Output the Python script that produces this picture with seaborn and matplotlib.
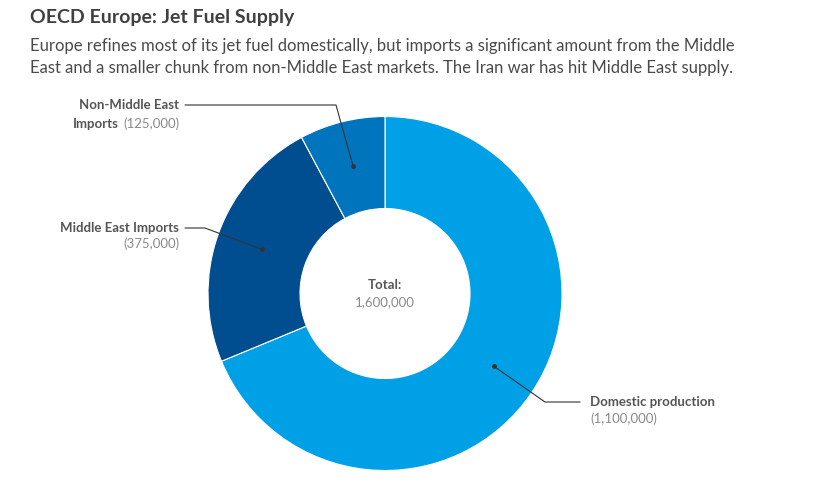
import numpy as np
import matplotlib
matplotlib.use("Agg")
import matplotlib.pyplot as plt
import seaborn as sns

# data
categories = ["Domestic production", "Middle East Imports", "Non-Middle East Imports"]
values = [1100000, 375000, 125000]
colors = ["#00A0E6", "#004E8F", "#0074BD"]

sns.set_style("white")
plt.rcParams["font.family"] = ["Lato", "DejaVu Sans"]

W, H = 830, 492
fig = plt.figure(figsize=(8.3, 4.92), dpi=100)
ax = fig.add_axes([0, 0, 1, 1])

cx, cy = 385, H - 293.5
r_out, r_in = 177, 85
wedges, _ = ax.pie(values, colors=colors, startangle=90, counterclock=False,
                   center=(cx, cy), radius=r_out,
                   wedgeprops=dict(width=r_out - r_in, edgecolor="white", linewidth=0.8))
ax.set_xlim(0, W)
ax.set_ylim(0, H)
ax.set_aspect("equal")
ax.axis("off")

dark = "#555555"
light = "#8a8a8a"

# leader line elbows (pixel coords, y from top)
elbows = {
    "Domestic production": [(545, 402), (580, 402)],
    "Middle East Imports": [(205, 228), (185, 228)],
    "Non-Middle East Imports": [(336, 105), (185, 105)],
}

for w, name, val in zip(wedges, categories, values):
    mid = np.deg2rad((w.theta1 + w.theta2) / 2)
    rm = (r_out + r_in) / 2
    dx, dy = cx + rm * np.cos(mid), cy + rm * np.sin(mid)
    pts = [(dx, dy)] + [(x, H - y) for x, y in elbows[name]]
    xs, ys = zip(*pts)
    ax.plot(xs, ys, color="#333333", lw=0.8)
    ax.plot(dx, dy, "o", color="#333333", ms=2.5)

fs = 9.5
# labels
ax.text(590, H - 402, "Domestic production", fontsize=fs, fontweight="bold",
        color=dark, va="center", ha="left")
ax.text(590, H - 419, f"({values[0]:,})", fontsize=fs, color=light, va="center", ha="left")

ax.text(179, H - 228, "Middle East Imports", fontsize=fs, fontweight="bold",
        color=dark, va="center", ha="right")
ax.text(179, H - 244, f"({values[1]:,})", fontsize=fs, color=light, va="center", ha="right")

ax.text(179, H - 105, "Non-Middle East", fontsize=fs, fontweight="bold",
        color=dark, va="center", ha="right")
t_val = ax.text(179, H - 124, f"({values[2]:,})", fontsize=fs, color=light,
                va="center", ha="right")
fig.canvas.draw()
bb = t_val.get_window_extent()
ax.text(bb.x0 - 4, H - 124, "Imports", fontsize=fs, fontweight="bold",
        color=dark, va="center", ha="right")

# centre total
ax.text(cx, H - 285, "Total:", fontsize=fs, fontweight="bold", color=dark,
        va="center", ha="center")
ax.text(cx, H - 302, f"{sum(values):,}", fontsize=fs, color=light,
        va="center", ha="center")

# title and subtitle
fig.text(30 / W, 1 - 17 / H, "OECD Europe: Jet Fuel Supply", fontsize=14,
         fontweight="bold", color="#404040", va="center", ha="left")
fig.text(30 / W, 1 - 46 / H,
         "Europe refines most of its jet fuel domestically, but imports a significant amount from the Middle",
         fontsize=12, color="#4a4a4a", va="center", ha="left")
fig.text(30 / W, 1 - 68 / H,
         "East and a smaller chunk from non-Middle East markets. The Iran war has hit Middle East supply.",
         fontsize=12, color="#4a4a4a", va="center", ha="left")

fig.savefig("out.png", dpi=100, facecolor="white")
